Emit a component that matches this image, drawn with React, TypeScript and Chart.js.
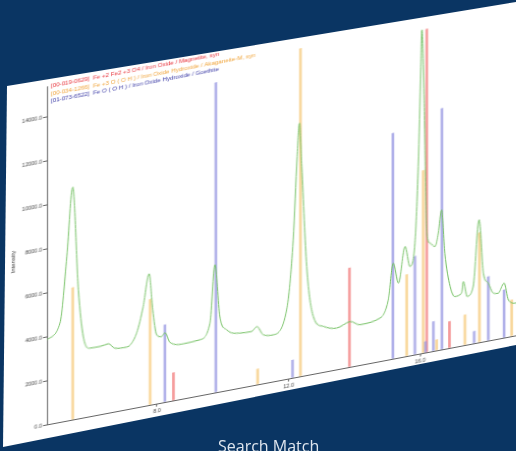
import React, { useEffect, useRef } from 'react';
import { Chart, registerables } from 'chart.js';

Chart.register(...registerables);

// measured pattern (2theta, Mo radiation) and counts
const TWO_THETA = [
  4.66, 5.05, 5.26, 5.44, 5.61, 5.76, 5.96, 6.27, 6.52, 6.72,
  7.08, 7.38, 7.58, 7.76, 7.87, 7.99, 8.14, 8.24, 8.4, 8.8,
  9.31, 9.61, 9.76, 9.91, 10.12, 10.52, 10.88, 11.03, 11.23, 11.53,
  11.94, 12.14, 12.26, 12.33, 12.4, 12.55, 12.75, 13.06, 13.46, 13.87,
  14.17, 14.78, 15.03, 15.18, 15.34, 15.54, 15.69, 15.84, 15.94, 16.02,
  16.05, 16.12, 16.2, 16.3, 16.45, 16.55, 16.65, 16.75, 16.91, 17.06,
  17.26, 17.31, 17.43, 17.61, 17.79, 17.92, 18.07, 18.22, 18.37, 18.55,
  18.68, 18.91, 19.2,
];
const COUNTS = [
  3850, 4500, 7470, 10570, 5850, 3680, 3100, 3090, 3140, 2880,
  2830, 3380, 4530, 5970, 4300, 3130, 3010, 3150, 2660, 2490,
  2530, 3210, 5810, 3410, 2750, 2490, 2460, 2640, 2210, 2120,
  3140, 6270, 10020, 11520, 9530, 4940, 2610, 2070, 1880, 2060,
  1830, 1960, 2720, 4340, 3390, 5000, 4050, 5070, 8520, 13040,
  14700, 11500, 5420, 4940, 4740, 5320, 6350, 4350, 2790, 2290,
  2390, 2900, 2190, 2590, 5570, 3110, 2610, 2120, 2070, 2480,
  1680, 1470, 1450,
];

// reference patterns (stick lines)
const MAGNETITE_POS = [8.5, 13.85, 16.2, 16.89];
const MAGNETITE_INT = [1260, 4500, 14700, 1200];
const AKAGANEITE_POS = [5.44, 7.79, 11.06, 12.36, 15.59, 16.09, 16.5, 17.36, 17.8, 18.78];
const AKAGANEITE_INT = [6000, 4800, 700, 14900, 3700, 8300, 490, 1370, 4980, 1650];
const GOETHITE_POS = [8.24, 9.79, 12.12, 15.17, 15.84, 16.16, 16.4, 16.66, 17.64, 18.07, 18.55];
const GOETHITE_INT = [3510, 14080, 800, 10250, 4460, 500, 1340, 10960, 540, 2910, 2170];

const LEGEND_TEXT = [
  '[00-019-0629]  Fe +2 Fe2 +3 O4 / Iron Oxide / Magnetite, syn',
  '[00-034-1266]  Fe +3 O ( O H ) / Iron Oxide Hydroxide / Akaganeite-M, syn',
  '[01-073-6522]  Fe O ( O H ) / Iron Oxide Hydroxide / Goethite',
];
const LEGEND_COLORS = ['#e8343c', '#f0a43a', '#3b3ba6'];

const X_TICKS = [8, 12, 16];
const Y_TICKS = [0, 2000, 4000, 6000, 8000, 10000, 12000, 14000];
const X_MIN = 4.657;
const X_MAX = 19.49;
const Y_MAX = 15350;

const toPoints = (xs: number[], ys: number[]) => xs.map((x, i) => ({ x, y: ys[i] }));

const legendPlugin = {
  id: 'phaseLegend',
  afterDraw(chart: any) {
    const { ctx, chartArea } = chart;
    ctx.save();
    ctx.font = '6.2px "Liberation Sans", Arial, sans-serif';
    ctx.textBaseline = 'middle';
    LEGEND_TEXT.forEach((t, i) => {
      ctx.fillStyle = LEGEND_COLORS[i];
      ctx.fillText(t, chartArea.left + 4, 9 + i * 7.8);
    });
    ctx.restore();
  },
};

const XrdChart: React.FC = () => {
  const canvasRef = useRef<HTMLCanvasElement>(null);

  useEffect(() => {
    const ctx = canvasRef.current?.getContext('2d');
    if (!ctx) return;

    const stick = (data: any, color: string) => ({
      type: 'bar' as const,
      data,
      backgroundColor: color,
      barThickness: 2,
      grouped: false,
      order: 1,
    });

    const chart = new Chart(ctx, {
      type: 'bar',
      data: {
        datasets: [
          stick(toPoints(GOETHITE_POS, GOETHITE_INT), 'rgba(150,150,226,0.75)'),
          stick(toPoints(AKAGANEITE_POS, AKAGANEITE_INT), 'rgba(246,204,128,0.8)'),
          stick(toPoints(MAGNETITE_POS, MAGNETITE_INT), 'rgba(242,120,120,0.75)'),
          {
            type: 'line' as const,
            data: toPoints(TWO_THETA, COUNTS),
            borderColor: '#74c063',
            borderWidth: 1,
            pointRadius: 0,
            cubicInterpolationMode: 'monotone',
            order: 0,
          } as any,
        ],
      },
      options: {
        animation: false,
        responsive: false,
        layout: { padding: { top: 9.5, right: 7, left: 0, bottom: 0 } },
        font: { family: '"Liberation Sans", Arial, sans-serif' },
        plugins: { legend: { display: false }, tooltip: { enabled: false } },
        scales: {
          x: {
            type: 'linear',
            min: X_MIN,
            max: X_MAX,
            offset: false,
            grid: { drawOnChartArea: false, offset: false, tickLength: 3, color: '#666' },
            border: { color: '#666', width: 1 },
            ticks: {
              font: { size: 5.5 },
              color: '#444',
              padding: 1,
              maxRotation: 0,
              autoSkip: false,
              callback: (v: any) => Number(v).toFixed(1),
            },
            afterBuildTicks: (s: any) => {
              s.ticks = X_TICKS.map((value) => ({ value }));
            },
            afterFit: (s: any) => {
              s.height = 18;
            },
          },
          y: {
            min: 0,
            max: Y_MAX,
            grid: { drawOnChartArea: false, tickLength: 4, color: '#666' },
            border: { color: '#666', width: 1 },
            ticks: {
              font: { size: 5.5 },
              color: '#444',
              padding: 1,
              callback: (v: any) => Number(v).toFixed(1),
            },
            title: {
              display: true,
              text: 'Intensity',
              font: { size: 6 },
              color: '#333',
              padding: { top: 8, bottom: 0 },
            },
            afterBuildTicks: (s: any) => {
              s.ticks = Y_TICKS.map((value) => ({ value }));
            },
            afterFit: (s: any) => {
              s.width = 45;
            },
          },
        },
      } as any,
      plugins: [legendPlugin],
    });

    return () => {
      chart.destroy();
    };
  }, []);

  return (
    <div
      style={{
        position: 'absolute',
        left: 2,
        top: 86,
        width: 540,
        height: 365,
        transform: 'matrix(1, -0.19, 0, 1, 0, 0)',
        transformOrigin: '0 0',
      }}
    >
      <canvas ref={canvasRef} width={540} height={365} style={{ width: 540, height: 365 }} />
    </div>
  );
};

const App: React.FC = () => {
  return (
    <div
      style={{
        position: 'fixed',
        left: 0,
        top: 0,
        width: 516,
        height: 451,
        overflow: 'hidden',
        background: '#0a3563',
      }}
    >
      <div
        style={{
          position: 'absolute',
          inset: 0,
          background: '#ffffff',
          clipPath: 'polygon(7px 86px, 516px 2px, 516px 345px, 3px 447px)',
        }}
      />
      <XrdChart />
      <div
        style={{
          position: 'absolute',
          left: 218,
          top: 436,
          fontFamily: '"Open Sans", sans-serif',
          fontSize: 16,
          lineHeight: '20px',
          color: '#dfe6ef',
          whiteSpace: 'nowrap',
        }}
      >
        Search Match
      </div>
    </div>
  );
};

export default App;
